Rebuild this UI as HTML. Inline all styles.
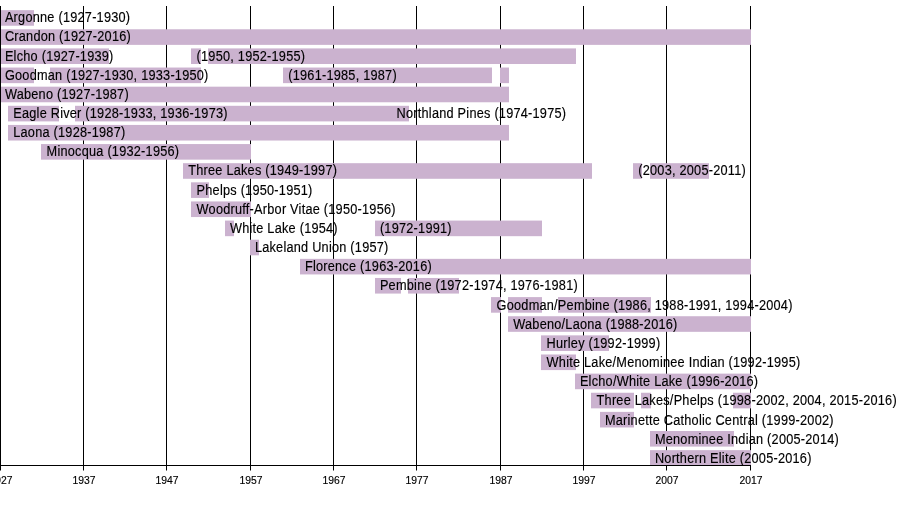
<!DOCTYPE html><html><head><meta charset="utf-8"><style>html,body{margin:0;padding:0;background:#fff;width:900px;height:515px;overflow:hidden}svg{display:block;will-change:transform}text{font-family:"Liberation Sans",sans-serif;fill:#000;stroke:#000;stroke-width:0.15px}</style></head><body>
<svg width="900" height="515" viewBox="0 0 900 515">
<rect x="0" y="0" width="900" height="515" fill="#fff"/>
<rect x="83" y="6" width="1" height="459.5" fill="#000"/>
<rect x="166" y="6" width="1" height="459.5" fill="#000"/>
<rect x="250" y="6" width="1" height="459.5" fill="#000"/>
<rect x="333" y="6" width="1" height="459.5" fill="#000"/>
<rect x="416" y="6" width="1" height="459.5" fill="#000"/>
<rect x="500" y="6" width="1" height="459.5" fill="#000"/>
<rect x="583" y="6" width="1" height="459.5" fill="#000"/>
<rect x="666" y="6" width="1" height="459.5" fill="#000"/>
<rect x="750" y="6" width="1" height="459.5" fill="#000"/>
<rect x="0" y="10.15" width="34" height="15.6" fill="#cbb2cf"/>
<rect x="0" y="29.28" width="751" height="15.6" fill="#cbb2cf"/>
<rect x="0" y="48.41" width="109" height="15.6" fill="#cbb2cf"/>
<rect x="191" y="48.41" width="10" height="15.6" fill="#cbb2cf"/>
<rect x="208" y="48.41" width="368" height="15.6" fill="#cbb2cf"/>
<rect x="0" y="67.54" width="34" height="15.6" fill="#cbb2cf"/>
<rect x="50" y="67.54" width="151" height="15.6" fill="#cbb2cf"/>
<rect x="283" y="67.54" width="209" height="15.6" fill="#cbb2cf"/>
<rect x="500" y="67.54" width="9" height="15.6" fill="#cbb2cf"/>
<rect x="0" y="86.67" width="509" height="15.6" fill="#cbb2cf"/>
<rect x="8" y="105.80" width="51" height="15.6" fill="#cbb2cf"/>
<rect x="75" y="105.80" width="334" height="15.6" fill="#cbb2cf"/>
<rect x="8" y="124.93" width="501" height="15.6" fill="#cbb2cf"/>
<rect x="41" y="144.06" width="210" height="15.6" fill="#cbb2cf"/>
<rect x="183" y="163.19" width="409" height="15.6" fill="#cbb2cf"/>
<rect x="633" y="163.19" width="9" height="15.6" fill="#cbb2cf"/>
<rect x="650" y="163.19" width="59" height="15.6" fill="#cbb2cf"/>
<rect x="191" y="182.32" width="18" height="15.6" fill="#cbb2cf"/>
<rect x="191" y="201.45" width="60" height="15.6" fill="#cbb2cf"/>
<rect x="225" y="220.58" width="9" height="15.6" fill="#cbb2cf"/>
<rect x="375" y="220.58" width="167" height="15.6" fill="#cbb2cf"/>
<rect x="250" y="239.71" width="9" height="15.6" fill="#cbb2cf"/>
<rect x="300" y="258.84" width="451" height="15.6" fill="#cbb2cf"/>
<rect x="375" y="277.97" width="26" height="15.6" fill="#cbb2cf"/>
<rect x="408" y="277.97" width="51" height="15.6" fill="#cbb2cf"/>
<rect x="491" y="297.10" width="10" height="15.6" fill="#cbb2cf"/>
<rect x="508" y="297.10" width="34" height="15.6" fill="#cbb2cf"/>
<rect x="558" y="297.10" width="93" height="15.6" fill="#cbb2cf"/>
<rect x="508" y="316.23" width="243" height="15.6" fill="#cbb2cf"/>
<rect x="541" y="335.36" width="68" height="15.6" fill="#cbb2cf"/>
<rect x="541" y="354.49" width="35" height="15.6" fill="#cbb2cf"/>
<rect x="575" y="373.62" width="176" height="15.6" fill="#cbb2cf"/>
<rect x="591" y="392.75" width="43" height="15.6" fill="#cbb2cf"/>
<rect x="641" y="392.75" width="10" height="15.6" fill="#cbb2cf"/>
<rect x="733" y="392.75" width="18" height="15.6" fill="#cbb2cf"/>
<rect x="600" y="411.88" width="34" height="15.6" fill="#cbb2cf"/>
<rect x="650" y="431.01" width="84" height="15.6" fill="#cbb2cf"/>
<rect x="650" y="450.14" width="101" height="15.6" fill="#cbb2cf"/>
<rect x="0" y="6" width="1" height="459.5" fill="#000"/>
<rect x="0" y="465" width="751" height="1" fill="#000"/>
<rect x="0" y="465" width="1" height="5.5" fill="#000"/>
<rect x="83" y="465" width="1" height="5.5" fill="#000"/>
<rect x="166" y="465" width="1" height="5.5" fill="#000"/>
<rect x="250" y="465" width="1" height="5.5" fill="#000"/>
<rect x="333" y="465" width="1" height="5.5" fill="#000"/>
<rect x="416" y="465" width="1" height="5.5" fill="#000"/>
<rect x="500" y="465" width="1" height="5.5" fill="#000"/>
<rect x="583" y="465" width="1" height="5.5" fill="#000"/>
<rect x="666" y="465" width="1" height="5.5" fill="#000"/>
<rect x="750" y="465" width="1" height="5.5" fill="#000"/>
<text transform="translate(4.90,22.00) scale(0.92,1)" font-size="13.86" letter-spacing="0.25">Argonne (1927-1930)</text>
<text transform="translate(4.90,41.00) scale(0.92,1)" font-size="13.86" letter-spacing="0.25">Crandon (1927-2016)</text>
<text transform="translate(4.90,61.00) scale(0.92,1)" font-size="13.86" letter-spacing="0.25">Elcho (1927-1939)</text>
<text transform="translate(196.57,61.00) scale(0.92,1)" font-size="13.86" letter-spacing="0.25">(1950, 1952-1955)</text>
<text transform="translate(4.90,80.00) scale(0.92,1)" font-size="13.86" letter-spacing="0.25">Goodman (1927-1930, 1933-1950)</text>
<text transform="translate(288.23,80.00) scale(0.92,1)" font-size="13.86" letter-spacing="0.25">(1961-1985, 1987)</text>
<text transform="translate(4.90,99.00) scale(0.92,1)" font-size="13.86" letter-spacing="0.25">Wabeno (1927-1987)</text>
<text transform="translate(13.23,118.00) scale(0.92,1)" font-size="13.86" letter-spacing="0.25">Eagle River (1928-1933, 1936-1973)</text>
<text transform="translate(396.57,118.00) scale(0.92,1)" font-size="13.86" letter-spacing="0.25">Northland Pines (1974-1975)</text>
<text transform="translate(13.23,137.00) scale(0.92,1)" font-size="13.86" letter-spacing="0.25">Laona (1928-1987)</text>
<text transform="translate(46.57,156.00) scale(0.92,1)" font-size="13.86" letter-spacing="0.25">Minocqua (1932-1956)</text>
<text transform="translate(188.23,175.00) scale(0.92,1)" font-size="13.86" letter-spacing="0.25">Three Lakes (1949-1997)</text>
<text transform="translate(638.23,175.00) scale(0.92,1)" font-size="13.86" letter-spacing="0.25">(2003, 2005-2011)</text>
<text transform="translate(196.57,195.00) scale(0.92,1)" font-size="13.86" letter-spacing="0.25">Phelps (1950-1951)</text>
<text transform="translate(196.57,214.00) scale(0.92,1)" font-size="13.86" letter-spacing="0.25">Woodruff-Arbor Vitae (1950-1956)</text>
<text transform="translate(229.90,233.00) scale(0.92,1)" font-size="13.86" letter-spacing="0.25">White Lake (1954)</text>
<text transform="translate(379.90,233.00) scale(0.92,1)" font-size="13.86" letter-spacing="0.25">(1972-1991)</text>
<text transform="translate(254.90,252.00) scale(0.92,1)" font-size="13.86" letter-spacing="0.25">Lakeland Union (1957)</text>
<text transform="translate(304.90,271.00) scale(0.92,1)" font-size="13.86" letter-spacing="0.25">Florence (1963-2016)</text>
<text transform="translate(379.90,290.00) scale(0.92,1)" font-size="13.86" letter-spacing="0.25">Pembine (1972-1974, 1976-1981)</text>
<text transform="translate(496.57,310.00) scale(0.92,1)" font-size="13.86" letter-spacing="0.25">Goodman/Pembine (1986, 1988-1991, 1994-2004)</text>
<text transform="translate(513.23,329.00) scale(0.92,1)" font-size="13.86" letter-spacing="0.25">Wabeno/Laona (1988-2016)</text>
<text transform="translate(546.57,348.00) scale(0.92,1)" font-size="13.86" letter-spacing="0.25">Hurley (1992-1999)</text>
<text transform="translate(546.57,367.00) scale(0.92,1)" font-size="13.86" letter-spacing="0.25">White Lake/Menominee Indian (1992-1995)</text>
<text transform="translate(579.90,386.00) scale(0.92,1)" font-size="13.86" letter-spacing="0.25">Elcho/White Lake (1996-2016)</text>
<text transform="translate(596.57,405.00) scale(0.92,1)" font-size="13.86" letter-spacing="0.25">Three Lakes/Phelps (1998-2002, 2004, 2015-2016)</text>
<text transform="translate(604.90,425.00) scale(0.92,1)" font-size="13.86" letter-spacing="0.25">Marinette Catholic Central (1999-2002)</text>
<text transform="translate(654.90,444.00) scale(0.92,1)" font-size="13.86" letter-spacing="0.25">Menominee Indian (2005-2014)</text>
<text transform="translate(654.90,463.00) scale(0.92,1)" font-size="13.86" letter-spacing="0.25">Northern Elite (2005-2016)</text>
<text transform="translate(0.9,484) scale(0.95,1)" font-size="10.9" text-anchor="middle">1927</text>
<text transform="translate(83.9,484) scale(0.95,1)" font-size="10.9" text-anchor="middle">1937</text>
<text transform="translate(166.9,484) scale(0.95,1)" font-size="10.9" text-anchor="middle">1947</text>
<text transform="translate(250.9,484) scale(0.95,1)" font-size="10.9" text-anchor="middle">1957</text>
<text transform="translate(333.9,484) scale(0.95,1)" font-size="10.9" text-anchor="middle">1967</text>
<text transform="translate(416.9,484) scale(0.95,1)" font-size="10.9" text-anchor="middle">1977</text>
<text transform="translate(500.9,484) scale(0.95,1)" font-size="10.9" text-anchor="middle">1987</text>
<text transform="translate(583.9,484) scale(0.95,1)" font-size="10.9" text-anchor="middle">1997</text>
<text transform="translate(666.9,484) scale(0.95,1)" font-size="10.9" text-anchor="middle">2007</text>
<text transform="translate(750.9,484) scale(0.95,1)" font-size="10.9" text-anchor="middle">2017</text>
</svg></body></html>
